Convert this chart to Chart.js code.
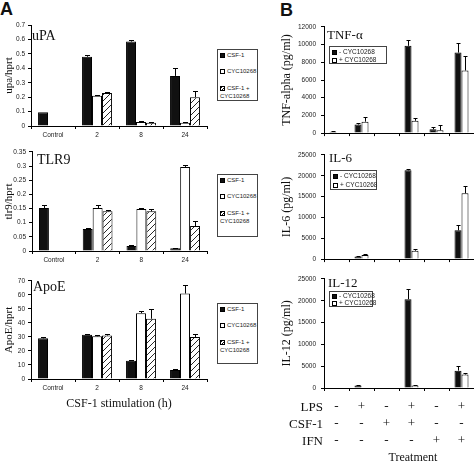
<!DOCTYPE html>
<html>
<head>
<meta charset="utf-8">
<script src="https://cdn.jsdelivr.net/npm/chart.js@4.4.0/dist/chart.umd.min.js"></script>
<style>
  body { margin:0; width:474px; height:461px; overflow:hidden; background:#fff; position:relative; font-family:"Liberation Serif", serif; color:#111; }
  canvas { position:absolute; }
  .t { position:absolute; white-space:nowrap; line-height:1; }
  .lg { position:absolute; border:1px solid #444; box-sizing:border-box; background:#fff; font-family:"Liberation Sans", sans-serif; font-size:6.5px; color:#222; }
  .lg.a { font-size:6px; }
  .lg div { position:absolute; white-space:nowrap; line-height:7.5px; }
  .sw { display:inline-block; width:5px; height:5px; border:1px solid #000; box-sizing:border-box; vertical-align:-1px; margin-right:2px; }
</style>
</head>
<body>
<div class="t" style="left:0;top:-1px;font:bold 18px 'Liberation Sans',sans-serif;">A</div>
<div class="t" style="left:280px;top:0;font:bold 18px 'Liberation Sans',sans-serif;">B</div>

<canvas id="upa" width="212" height="126" style="left:0;top:18px"></canvas>
<canvas id="tlr" width="212" height="124" style="left:0;top:145px"></canvas>
<canvas id="apo" width="212" height="138" style="left:0;top:274px"></canvas>
<canvas id="tnf" width="199" height="124" style="left:277px;top:18px"></canvas>
<canvas id="il6" width="199" height="122" style="left:277px;top:146px"></canvas>
<canvas id="il12" width="199" height="178" style="left:277px;top:270px"></canvas>

<div class="t" style="left:32px;top:29px;font-size:14px">uPA</div>
<div class="t" style="left:37px;top:153px;font-size:14px">TLR9</div>
<div class="t" style="left:33px;top:280px;font-size:14px">ApoE</div>
<div class="t" style="left:327px;top:28px;font-size:13px">TNF-α</div>
<div class="t" style="left:329px;top:151px;font-size:13px">IL-6</div>
<div class="t" style="left:328px;top:276px;font-size:13px">IL-12</div>

<div class="t" style="right:151px;top:400px;font-size:13px">LPS</div>
<div class="t" style="right:151px;top:417px;font-size:13px">CSF-1</div>
<div class="t" style="right:151px;top:434px;font-size:13px">IFN</div>
<div class="t" style="left:363px;width:100px;text-align:center;top:451px;font-size:12px">Treatment</div>

<script>
// panel A: gene expression vs CSF-1 stimulation time
const catsA = ['Control', '2', '8', '24'];
const seriesA = ['CSF-1', 'CYC10268', 'CSF-1 + CYC10268'];

const upaCsf = [0.095, 0.48, 0.585, 0.347];
const upaCsfErr = [0, 0.012, 0.012, 0.055];
const upaCyc = [null, 0.21, 0.028, 0.022];
const upaCycErr = [null, 0.006, 0.004, 0.006];
const upaBoth = [null, 0.228, 0.022, 0.2];
const upaBothErr = [null, 0.005, 0.004, 0.043];

const tlrCsf = [0.152, 0.078, 0.018, 0.01];
const tlrCsfErr = [0.011, 0.004, 0.002, 0.002];
const tlrCyc = [null, 0.152, 0.148, 0.297];
const tlrCycErr = [null, 0.009, 0.004, 0.008];
const tlrBoth = [null, 0.14, 0.14, 0.088];
const tlrBothErr = [null, 0.004, 0.01, 0.018];

const apoCsf = [29, 31.5, 13, 6.5];
const apoCsfErr = [1.2, 0.5, 0.8, 0.4];
const apoCyc = [null, 30.5, 47, 61];
const apoCycErr = [null, 1.2, 1.2, 6];
const apoBoth = [null, 31, 43, 30];
const apoBothErr = [null, 0.8, 7, 2];

// panel B: cytokines per treatment
const lps  = ['-', '+', '-', '+', '-', '+'];
const csf1 = ['-', '-', '+', '+', '-', '-'];
const ifn  = ['-', '-', '-', '-', '+', '+'];
const seriesB = ['- CYC10268', '+ CYC10268'];

const tnfMinus = [150, 970, null, 9860, 430, 9100];
const tnfMinusErr = [80, 150, null, 700, 250, 1100];
const tnfPlus = [60, 1290, null, 1390, 320, 7070];
const tnfPlusErr = [0, 530, null, 300, 550, 1600];

const il6Minus = [null, 600, null, 21300, null, 6900];
const il6MinusErr = [null, 200, null, 300, null, 1400];
const il6Plus = [null, 1000, null, 2000, null, 15800];
const il6PlusErr = [null, 200, null, 500, null, 1800];

const il12Minus = [null, 600, null, 20350, null, 3980];
const il12MinusErr = [null, 200, null, 2250, null, 1000];
const il12Plus = [null, null, null, 600, null, 3100];
const il12PlusErr = [null, null, null, 150, null, 250];

const labelsB = lps.map((v, i) => [v, csf1[i], ifn[i]]);

// error bars (upper only, with cap)
const errorBars = {
  id: 'errorBars',
  afterDatasetsDraw(chart, args, opts) {
    const ctx = chart.ctx, y = chart.scales.y;
    const cap = opts.cap || 2;
    ctx.save();
    ctx.strokeStyle = '#000';
    ctx.lineWidth = 1;
    chart.data.datasets.forEach((ds, i) => {
      chart.getDatasetMeta(i).data.forEach((bar, j) => {
        const v = ds.data[j], e = ds.errors ? ds.errors[j] : 0;
        if (v == null || !e) return;
        const top = Math.round(y.getPixelForValue(v + e)) + 0.5;
        const x = Math.round(bar.x) + 0.5;
        ctx.beginPath();
        ctx.moveTo(x, bar.y);
        ctx.lineTo(x, top);
        ctx.moveTo(x - cap, top);
        ctx.lineTo(x + cap, top);
        ctx.stroke();
      });
    });
    ctx.restore();
  }
};

function hatch(ctx) {
  const c = document.createElement('canvas');
  c.width = 6; c.height = 6;
  const g = c.getContext('2d');
  g.fillStyle = '#fff';
  g.fillRect(0, 0, 6, 6);
  g.strokeStyle = '#111';
  g.lineWidth = 0.9;
  g.beginPath();
  g.moveTo(0, 6); g.lineTo(6, 0);
  g.moveTo(-1, 1); g.lineTo(1, -1);
  g.moveTo(5, 7); g.lineTo(7, 5);
  g.stroke();
  return ctx.createPattern(c, 'repeat');
}

const tickFont = { family: 'Liberation Sans', size: 6.5 };

function barChart(id, o) {
  const cv = document.getElementById(id);
  return new Chart(cv, {
    type: 'bar',
    data: { labels: o.labels, datasets: o.datasets },
    options: {
      responsive: false,
      animation: false,
      layout: { padding: o.pad },
      plugins: { legend: { display: false }, tooltip: { enabled: false }, errorBars: { cap: o.cap } },
      datasets: { bar: { categoryPercentage: o.catPct, barPercentage: 1, borderWidth: 1, borderColor: '#000' } },
      scales: {
        x: {
          grid: { drawOnChartArea: false, tickLength: 3, color: '#000', offset: true },
          border: { color: '#000' },
          ticks: Object.assign({ autoSkip: false, maxRotation: 0, color: '#222' }, o.xTicks),
          title: o.xTitle || { display: false },
          afterFit: s => { s.height = o.xH; }
        },
        y: {
          min: 0,
          max: o.max,
          ticks: { stepSize: o.step, font: tickFont, color: '#222', padding: o.yPad, callback: v => String(+v.toFixed(2)) },
          grid: { drawOnChartArea: false, tickLength: 3, color: '#000' },
          border: { color: '#000' },
          title: { display: true, text: o.yTitle, color: '#111', font: { family: 'Liberation Serif', size: o.yTitleSize }, padding: { top: o.yTitlePad, bottom: 0 } },
          afterFit: s => { s.width = o.yW; }
        }
      }
    },
    plugins: [errorBars]
  });
}

function panelA(id, vals, errs, o) {
  const ctx = document.getElementById(id).getContext('2d');
  const fills = ['#111', '#fff', hatch(ctx)];
  barChart(id, Object.assign({
    labels: catsA,
    datasets: seriesA.map((s, i) => ({ label: s, data: vals[i], errors: errs[i], backgroundColor: fills[i] })),
    catPct: 0.68, cap: 2.5, yW: 31, yPad: 3, yTitleSize: 11, yTitlePad: 3,
    xTicks: { font: tickFont, padding: 2 }
  }, o));
}

function panelB(id, vals, errs, o) {
  const fills = ['#111', '#fff'];
  barChart(id, Object.assign({
    labels: labelsB,
    datasets: seriesB.map((s, i) => ({ label: s, data: vals[i], errors: errs[i], backgroundColor: fills[i] })),
    catPct: 0.56, cap: 2, yW: 47, yPad: 5, yTitleSize: 12, yTitlePad: 3,
    xTicks: { display: false }, xH: 5
  }, o));
}

panelA('upa', [upaCsf, upaCyc, upaBoth], [upaCsfErr, upaCycErr, upaBothErr],
  { pad: { top: 7, right: 5 }, xH: 18, max: 0.7, step: 0.1, yTitle: 'upa/hprt' });
panelA('tlr', [tlrCsf, tlrCyc, tlrBoth], [tlrCsfErr, tlrCycErr, tlrBothErr],
  { pad: { top: 5, right: 5 }, xH: 18, max: 0.35, step: 0.05, yTitle: 'tlr9/hprt', yW: 32 });
panelA('apo', [apoCsf, apoCyc, apoBoth], [apoCsfErr, apoCycErr, apoBothErr],
  { pad: { top: 5, right: 5 }, xH: 33, max: 70, step: 10, yTitle: 'ApoE/hprt',
    xTitle: { display: true, text: 'CSF-1 stimulation (h)', color: '#111', font: { family: 'Liberation Serif', size: 12 }, padding: { top: 0, bottom: 1 } } });

panelB('tnf', [tnfMinus, tnfPlus], [tnfMinusErr, tnfPlusErr],
  { pad: { top: 7, right: 2 }, max: 12000, step: 2000, yTitle: 'TNF-alpha (pg/ml)' });
panelB('il6', [il6Minus, il6Plus], [il6MinusErr, il6PlusErr],
  { pad: { top: 5, right: 2 }, max: 25000, step: 5000, yTitle: 'IL-6 (pg/ml)' });
panelB('il12', [il12Minus, il12Plus], [il12MinusErr, il12PlusErr],
  { pad: { top: 5, right: 2 }, max: 25000, step: 5000, yTitle: 'IL-12 (pg/ml)', xH: 60,
    xTicks: { display: true, color: '#111', padding: 7, font: { family: 'Liberation Serif', size: 13, lineHeight: 17 / 13 } } });

// boxed legends
const swatchA = [
  'background:#111',
  'background:#fff',
  'background:repeating-linear-gradient(-45deg,#fff 0 1.2px,#111 1.2px 2px)'
];
function legendA(top, h) {
  const box = document.createElement('div');
  box.className = 'lg a';
  box.style.cssText = 'left:217px;top:' + top + 'px;width:41px;height:' + h + 'px';
  const rows = [2, 18, 35];
  seriesA.forEach((s, i) => {
    const parts = s.split(' + ');
    const d = document.createElement('div');
    d.style.cssText = 'left:2px;top:' + rows[i] + 'px';
    d.innerHTML = '<span class="sw" style="' + swatchA[i] + '"></span>' + (parts.length > 1 ? parts[0] + ' +<br>' + parts[1] : s);
    box.appendChild(d);
  });
  document.body.appendChild(box);
}
legendA(49, 52);
legendA(174, 63);
legendA(303, 61);

function legendB(left, top, w, h, gap, off) {
  const box = document.createElement('div');
  box.className = 'lg';
  box.style.cssText = 'left:' + left + 'px;top:' + top + 'px;width:' + w + 'px;height:' + h + 'px';
  seriesB.forEach((s, i) => {
    const d = document.createElement('div');
    d.style.cssText = 'left:2px;top:' + (off + i * gap) + 'px';
    d.innerHTML = '<span class="sw" style="background:' + (i ? '#fff' : '#111') + '"></span>' + s;
    box.appendChild(d);
  });
  document.body.appendChild(box);
}
legendB(329, 46, 58, 18, 8, 1);
legendB(330, 170, 47, 20, 9, 1);
legendB(329, 291, 44, 16, 7, 0);
</script>
</body>
</html>
